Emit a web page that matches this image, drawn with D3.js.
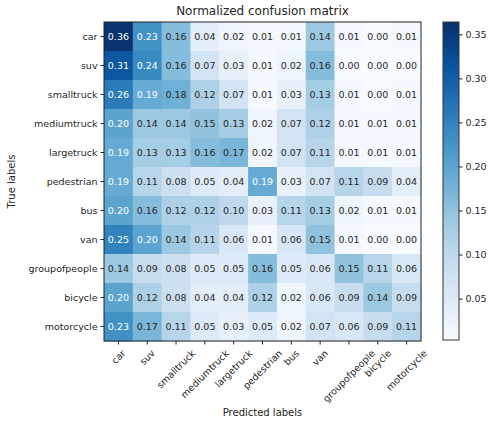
<!DOCTYPE html>
<html>
<head>
<meta charset="utf-8">
<script src="https://d3js.org/d3.v7.min.js"></script>
<style>
  body { margin: 0; background: #fff; }
  text { font-family: "DejaVu Sans", sans-serif; fill: #262626; }
</style>
</head>
<body>
<div id="my_dataviz"></div>
<script>
var width = 489
var height = 423

// class names, same order on both axes
var labels = ["car", "suv", "smalltruck", "mediumtruck", "largetruck", "pedestrian",
              "bus", "van", "groupofpeople", "bicycle", "motorcycle"]

// one row per true label, columns are the predicted labels
var carRow        = [0.36, 0.23, 0.16, 0.04, 0.02, 0.01, 0.01, 0.14, 0.01, 0.00, 0.01]
var suvRow        = [0.31, 0.24, 0.16, 0.07, 0.03, 0.01, 0.02, 0.16, 0.00, 0.00, 0.00]
var smalltruckRow = [0.26, 0.19, 0.18, 0.12, 0.07, 0.01, 0.03, 0.13, 0.01, 0.00, 0.01]
var mediumRow     = [0.20, 0.14, 0.14, 0.15, 0.13, 0.02, 0.07, 0.12, 0.01, 0.01, 0.01]
var largeRow      = [0.19, 0.13, 0.13, 0.16, 0.17, 0.02, 0.07, 0.11, 0.01, 0.01, 0.01]
var pedestrianRow = [0.19, 0.11, 0.08, 0.05, 0.04, 0.19, 0.03, 0.07, 0.11, 0.09, 0.04]
var busRow        = [0.20, 0.16, 0.12, 0.12, 0.10, 0.03, 0.11, 0.13, 0.02, 0.01, 0.01]
var vanRow        = [0.25, 0.20, 0.14, 0.11, 0.06, 0.01, 0.06, 0.15, 0.01, 0.00, 0.00]
var groupRow      = [0.14, 0.09, 0.08, 0.05, 0.05, 0.16, 0.05, 0.06, 0.15, 0.11, 0.06]
var bicycleRow    = [0.20, 0.12, 0.08, 0.04, 0.04, 0.12, 0.02, 0.06, 0.09, 0.14, 0.09]
var motorcycleRow = [0.23, 0.17, 0.11, 0.05, 0.03, 0.05, 0.02, 0.07, 0.06, 0.09, 0.11]

var rows = [carRow, suvRow, smalltruckRow, mediumRow, largeRow, pedestrianRow,
            busRow, vanRow, groupRow, bicycleRow, motorcycleRow]

var colorbarTicks = [0.05, 0.10, 0.15, 0.20, 0.25, 0.30, 0.35]
var colorMin = 0.003
var colorMax = 0.364

// flatten into cells
var cells = []
rows.forEach(function(r, i) {
  r.forEach(function(v, j) {
    cells.push({ row: labels[i], col: labels[j], value: v })
  })
})

var svg = d3.select("#my_dataviz")
  .append("svg")
    .attr("width", width)
    .attr("height", height)

var mLeft = 104, mRight = 421, mTop = 22, mBottom = 341

var x = d3.scaleBand().domain(labels).range([mLeft, mRight])
var y = d3.scaleBand().domain(labels).range([mTop, mBottom])

// matplotlib "Blues"
var blues = d3.piecewise(d3.interpolateRgb, ["#f7fbff", "#deebf7", "#c6dbef", "#9ecae1",
  "#6baed6", "#4292c6", "#2171b5", "#08519c", "#08306b"])
var color = d3.scaleSequential(blues).domain([colorMin, colorMax]).clamp(true)
var thresh = d3.max(cells, function(d) { return d.value }) / 2

svg.append("g")
  .selectAll("rect")
  .data(cells)
  .enter()
  .append("rect")
    .attr("x", function(d) { return x(d.col) })
    .attr("y", function(d) { return y(d.row) })
    .attr("width", x.bandwidth() + 0.5)
    .attr("height", y.bandwidth() + 0.5)
    .attr("fill", function(d) { return color(d.value) })

svg.append("g")
  .selectAll("text")
  .data(cells)
  .enter()
  .append("text")
    .attr("x", function(d) { return x(d.col) + x.bandwidth() / 2 })
    .attr("y", function(d) { return y(d.row) + y.bandwidth() / 2 })
    .attr("text-anchor", "middle")
    .attr("dy", "0.35em")
    .style("font-size", "9.5px")
    .style("fill", function(d) { return d.value > thresh ? "#ffffff" : "#262626" })
    .text(function(d) { return d.value.toFixed(2) })

svg.append("rect")
  .attr("x", mLeft).attr("y", mTop)
  .attr("width", mRight - mLeft).attr("height", mBottom - mTop)
  .attr("fill", "none").attr("stroke", "#222").attr("stroke-width", 1)

// axes
var xAxis = svg.append("g")
  .attr("transform", "translate(0," + mBottom + ")")
  .call(d3.axisBottom(x).tickSize(3.5).tickPadding(3))
xAxis.select(".domain").remove()
xAxis.selectAll("line").attr("stroke", "#222")
// rotated 45deg, box centred under the tick (like matplotlib ha=center)
xAxis.selectAll("text")
  .style("font-size", "9.5px")
  .style("fill", "#262626")
  .attr("text-anchor", "middle")
  .attr("dy", "0.35em")
  .attr("y", 0).attr("x", 0)
  .attr("transform", function() {
    var w = this.getComputedTextLength()
    var h = 10
    var half = (w + h) * Math.SQRT1_2 / 2
    return "translate(0," + (7 + half) + ") rotate(-45)"
  })

var yAxis = svg.append("g")
  .attr("transform", "translate(" + mLeft + ",0)")
  .call(d3.axisLeft(y).tickSize(3.5).tickPadding(3))
yAxis.select(".domain").remove()
yAxis.selectAll("line").attr("stroke", "#222")
yAxis.selectAll("text").style("font-size", "9.5px").style("fill", "#262626")

svg.append("text")
  .attr("x", (mLeft + mRight) / 2)
  .attr("y", 15)
  .attr("text-anchor", "middle")
  .style("font-size", "12px")
  .text("Normalized confusion matrix")

svg.append("text")
  .attr("x", (mLeft + mRight) / 2)
  .attr("y", 416)
  .attr("text-anchor", "middle")
  .style("font-size", "10px")
  .text("Predicted labels")

svg.append("text")
  .attr("transform", "translate(15," + ((mTop + mBottom) / 2) + ") rotate(-90)")
  .attr("text-anchor", "middle")
  .style("font-size", "10px")
  .text("True labels")

// colorbar
var cbX = 443, cbW = 16
var cbScale = d3.scaleLinear().domain([colorMin, colorMax]).range([mBottom - 1, mTop])

var defs = svg.append("defs")
var grad = defs.append("linearGradient")
  .attr("id", "cbgrad")
  .attr("x1", 0).attr("y1", 1).attr("x2", 0).attr("y2", 0)
d3.range(0, 1.0001, 0.05).forEach(function(t) {
  grad.append("stop")
    .attr("offset", t)
    .attr("stop-color", color(colorMin + t * (colorMax - colorMin)))
})

svg.append("rect")
  .attr("x", cbX).attr("y", mTop)
  .attr("width", cbW).attr("height", mBottom - 1 - mTop)
  .attr("fill", "url(#cbgrad)")
  .attr("stroke", "#333").attr("stroke-width", 1)

var cbAxis = svg.append("g")
  .attr("transform", "translate(" + (cbX + cbW) + ",0)")
  .call(d3.axisRight(cbScale).tickValues(colorbarTicks).tickFormat(d3.format(".2f")).tickSize(3.5).tickPadding(3))
cbAxis.select(".domain").remove()
cbAxis.selectAll("line").attr("stroke", "#222")
cbAxis.selectAll("text").style("font-size", "9.5px").style("fill", "#262626")
</script>
</body>
</html>
